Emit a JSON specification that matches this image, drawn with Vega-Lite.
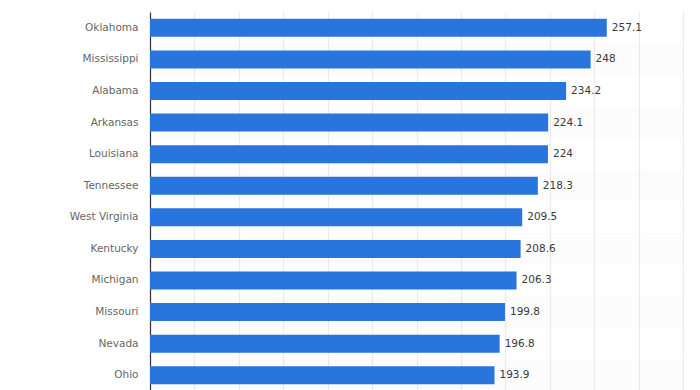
{
  "$schema": "https://vega.github.io/schema/vega-lite/v6.json",
  "autosize": "none",
  "width": 533,
  "height": 379,
  "padding": {"left": 150, "top": 12, "right": 17, "bottom": 0},
  "background": "white",
  "config": {"view": {"stroke": null}, "font": "DejaVu Sans"},
  "data": {"values": [
    {"state": "Oklahoma", "value": 257.1},
    {"state": "Mississippi", "value": 248},
    {"state": "Alabama", "value": 234.2},
    {"state": "Arkansas", "value": 224.1},
    {"state": "Louisiana", "value": 224},
    {"state": "Tennessee", "value": 218.3},
    {"state": "West Virginia", "value": 209.5},
    {"state": "Kentucky", "value": 208.6},
    {"state": "Michigan", "value": 206.3},
    {"state": "Missouri", "value": 199.8},
    {"state": "Nevada", "value": 196.8},
    {"state": "Ohio", "value": 193.9}
  ]},
  "encoding": {
    "y": {
      "field": "state", "type": "nominal",
      "sort": ["Oklahoma","Mississippi","Alabama","Arkansas","Louisiana","Tennessee","West Virginia","Kentucky","Michigan","Missouri","Nevada","Ohio"],
      "scale": {"paddingInner": 0, "paddingOuter": 0},
      "axis": {"title": null, "ticks": false, "labelPadding": 12, "labelFontSize": 10.5, "labelColor": "#666666", "domainColor": "#333333", "domainWidth": 1.2, "labelFont": "DejaVu Sans"}
    }
  },
  "layer": [
    {
      "transform": [
        {"window": [{"op": "row_number", "as": "rn"}]},
        {"filter": "datum.rn % 2 == 0"}
      ],
      "mark": {"type": "bar", "color": "#000000", "opacity": 0.012},
      "encoding": {
        "x": {"datum": 300, "type": "quantitative"}
      }
    },
    {
      "mark": {"type": "bar", "color": "#2876dd", "height": 18},
      "encoding": {
        "x": {"field": "value", "type": "quantitative", "scale": {"domain": [0, 300], "nice": false},
              "axis": {"title": null, "labels": false, "ticks": false, "domain": false, "grid": true, "values": [0,25,50,75,100,125,150,175,200,225,250,275,300], "gridColor": "#d8d8d8", "gridDash": [1, 1], "gridWidth": 1.2}}
      }
    },
    {
      "mark": {"type": "text", "align": "left", "dx": 5, "fontSize": 10.5, "fontWeight": "normal", "color": "#3a3a3a", "font": "DejaVu Sans"},
      "encoding": {
        "x": {"field": "value", "type": "quantitative"},
        "text": {"field": "value", "type": "quantitative", "format": ""}
      }
    }
  ]
}
